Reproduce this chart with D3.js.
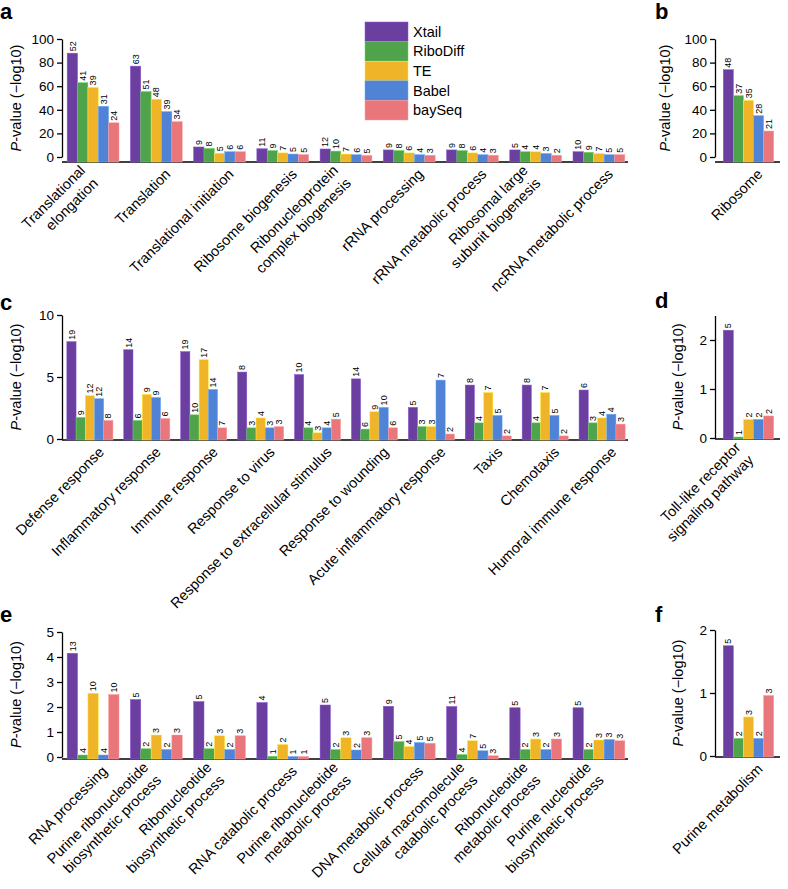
<!DOCTYPE html>
<html>
<head>
<meta charset="utf-8">
<script src="https://cdn.jsdelivr.net/npm/d3@7"></script>
<style>
  body { margin: 0; background: #fff; }
  svg text { font-family: "Liberation Sans", Arial, Helvetica, sans-serif; }
</style>
</head>
<body>
<svg id="chart" width="788" height="889"></svg>
<script>
const methods = ["Xtail", "RiboDiff", "TE", "Babel", "baySeq"];
const methodColors = ["#6a3fa0", "#4fa34a", "#f0b429", "#5082d6", "#e8767a"];

// panel a
const catsA = ["Translational\nelongation", "Translation", "Translational initiation", "Ribosome biogenesis",
  "Ribonucleoprotein\ncomplex biogenesis", "rRNA processing", "rRNA metabolic process",
  "Ribosomal large\nsubunit biogenesis", "ncRNA metabolic process"];
const valuesA = [[88, 63, 59, 43, 29], [77, 55.5, 49, 38.5, 30], [8.5, 7.3, 3.2, 4.5, 4.5], [7, 5.5, 3.5, 2.5, 2],
  [6.8, 5, 2.5, 2, 1.3], [6, 5.5, 3.5, 2, 1.5], [6, 5.5, 3.5, 2, 1.5], [6, 4.5, 4.5, 3, 1.5], [4.5, 4, 3, 2, 2]];
const countsA = [[52, 41, 39, 31, 24], [63, 51, 48, 39, 34], [9, 8, 5, 6, 6], [11, 9, 7, 5, 5], [12, 10, 7, 6, 5],
  [9, 8, 6, 4, 3], [9, 8, 6, 4, 3], [5, 4, 4, 3, 2], [10, 9, 7, 5, 5]];
const ticksA = [0, 20, 40, 60, 80, 100];

// panel b
const catsB = ["Ribosome"];
const valuesB = [[74, 52, 48, 35, 22]];
const countsB = [[48, 37, 35, 28, 21]];

// panel c
const catsC = ["Defense response", "Inflammatory response", "Immune response", "Response to virus",
  "Response to extracellular stimulus", "Response to wounding", "Acute inflammatory response",
  "Taxis", "Chemotaxis", "Humoral immune response"];
const valuesC = [[7.85, 1.75, 3.5, 3.25, 1.5], [7.2, 1.5, 3.6, 3.35, 1.65], [7.05, 1.95, 6.4, 4.0, 0.9],
  [5.4, 0.9, 1.7, 0.9, 1.0], [5.2, 0.9, 0.5, 0.9, 1.6], [4.85, 0.8, 2.2, 2.55, 0.9], [2.55, 1.0, 1.0, 4.75, 0.4],
  [4.35, 1.3, 3.75, 1.9, 0.25], [4.35, 1.3, 3.75, 1.9, 0.25], [3.95, 1.3, 1.7, 2.0, 1.2]];
const countsC = [[19, 9, 12, 12, 8], [14, 6, 9, 9, 6], [19, 10, 17, 14, 7], [8, 3, 4, 3, 3], [10, 4, 3, 4, 5],
  [14, 6, 9, 10, 6], [5, 3, 3, 7, 2], [8, 4, 7, 5, 2], [8, 4, 7, 5, 2], [6, 3, 4, 4, 3]];
const ticksC = [0, 5, 10];

// panel d
const catsD = ["Toll-like receptor\nsignaling pathway"];
const valuesD = [[2.2, 0.02, 0.38, 0.38, 0.45]];
const countsD = [[5, 1, 2, 2, 2]];
const ticksD = [0, 1, 2];

// panel e
const catsE = ["RNA processing", "Purine ribonucleotide\nbiosynthetic process", "Ribonucleotide\nbiosynthetic process",
  "RNA catabolic process", "Purine ribonucleotide\nmetabolic process", "DNA metabolic process",
  "Cellular macromolecule\ncatabolic process", "Ribonucleotide\nmetabolic process", "Purine nucleotide\nbiosynthetic process"];
const valuesE = [[4.15, 0.08, 2.55, 0.08, 2.5], [2.3, 0.33, 0.88, 0.3, 0.88], [2.22, 0.33, 0.85, 0.3, 0.85],
  [2.18, 0.03, 0.5, 0.02, 0.02], [2.08, 0.3, 0.77, 0.28, 0.77], [2.03, 0.62, 0.42, 0.58, 0.55],
  [2.02, 0.1, 0.65, 0.25, 0.05], [1.97, 0.3, 0.72, 0.3, 0.72], [1.97, 0.3, 0.68, 0.7, 0.65]];
const countsE = [[13, 4, 10, 4, 10], [5, 2, 3, 2, 3], [5, 2, 3, 2, 3], [4, 1, 2, 1, 1], [5, 2, 3, 2, 3],
  [9, 5, 4, 5, 5], [11, 4, 7, 5, 3], [5, 2, 3, 2, 3], [5, 2, 3, 3, 3]];
const ticksE = [0, 1, 2, 3, 4, 5];

// panel f
const catsF = ["Purine metabolism"];
const valuesF = [[1.75, 0.28, 0.62, 0.28, 0.96]];
const countsF = [[5, 2, 3, 2, 3]];
const ticksF = [0, 1, 2];

const svg = d3.select("#chart");
const color = d3.scaleOrdinal().domain(methods).range(methodColors);

function drawPanel(p) {
    const g = svg.append("g");
    const y = d3.scaleLinear().domain([0, p.max]).range([p.y0, p.y1]);
    const x0 = d3.scaleBand()
        .domain(d3.range(p.cats.length))
        .range([p.axisX + 2, p.right])
        .paddingInner(p.pin)
        .paddingOuter(p.pout);
    const x1 = d3.scaleBand().domain(methods).range([0, x0.bandwidth()]);
    const base = p.y0 + p.off;

    // panel letter
    g.append("text")
        .attr("x", p.letterX).attr("y", p.letterY)
        .style("font-size", "22px").style("font-weight", "bold")
        .text(p.letter);

    // y axis
    const yAxis = g.append("g")
        .attr("transform", `translate(${p.axisX},0)`)
        .call(d3.axisLeft(y).tickValues(p.ticks).tickFormat(d3.format("~g"))
            .tickSize(5).tickSizeOuter(0).tickPadding(3));
    yAxis.select(".domain").attr("stroke-width", 1.3);
    yAxis.selectAll(".tick line").attr("stroke-width", 1.3);
    yAxis.selectAll(".tick text")
        .style("font-size", "13.5px")
        .attr("fill", "#000")
        .style("font-family", "Liberation Sans, Arial, sans-serif");

    const title = g.append("text")
        .attr("transform", `translate(${p.titleX},${(p.y0 + p.y1) / 2}) rotate(-90)`)
        .attr("text-anchor", "middle")
        .style("font-size", "14.5px");
    title.append("tspan").style("font-style", "italic").text("P");
    title.append("tspan").text("-value (\u2212log10)");

    // baseline
    g.append("line")
        .attr("x1", p.axisX).attr("x2", p.right)
        .attr("y1", base).attr("y2", base)
        .attr("stroke", "#000").attr("stroke-width", 1.3);

    const groups = g.selectAll(".grp")
        .data(p.values)
        .enter()
        .append("g")
        .attr("transform", (d, i) => `translate(${x0(i)},0)`);

    groups.selectAll("rect")
        .data(d => d.map((v, j) => ({ m: methods[j], v: v })))
        .enter()
        .append("rect")
        .attr("x", d => x1(d.m))
        .attr("width", x1.bandwidth())
        .attr("y", d => y(d.v))
        .attr("height", d => base - y(d.v))
        .attr("fill", d => color(d.m))
        .attr("stroke", d => d3.color(color(d.m)).brighter(0.8))
        .attr("stroke-width", 0.5);

    groups.each(function (d, i) {
        d3.select(this).selectAll(".cnt")
            .data(p.counts[i].map((c, j) => ({ m: methods[j], c: c, v: d[j] })))
            .enter()
            .append("text")
            .attr("transform", e => `translate(${x1(e.m) + x1.bandwidth() / 2},${y(e.v) - 2}) rotate(-90)`)
            .attr("dy", "0.35em")
            .style("font-size", "9px")
            .text(e => e.c);
    });

    // rotated category labels, two-line ones sit a bit further left
    p.cats.forEach((c, i) => {
        const cx = x0(i) + x0.bandwidth() / 2;
        const lines = c.split("\n");
        const t = g.append("text")
            .attr("transform", `translate(${cx + 15},${base + 13}) rotate(-45)`)
            .attr("text-anchor", "end")
            .style("font-size", "14.5px");
        lines.forEach((l, k) => {
            t.append("tspan")
                .attr("x", lines.length === 1 ? 0 : -13)
                .attr("dy", lines.length === 1 ? "0em" : (k === 0 ? "-1.25em" : "1.25em"))
                .text(l);
        });
    });
}

drawPanel({ letter: "a", letterX: 0, letterY: 19, cats: catsA, values: valuesA, counts: countsA, ticks: ticksA,
    max: 100, y0: 157, y1: 39, off: 5, axisX: 62, right: 628, pin: 0.18, pout: 0.05, titleX: 21 });
drawPanel({ letter: "b", letterX: 655, letterY: 19, cats: catsB, values: valuesB, counts: countsB, ticks: ticksA,
    max: 100, y0: 157, y1: 39, off: 5, axisX: 715, right: 780, pin: 0.2, pout: 0.1, titleX: 670 });
drawPanel({ letter: "c", letterX: 0, letterY: 310, cats: catsC, values: valuesC, counts: countsC, ticks: ticksC,
    max: 10, y0: 439, y1: 315, off: 1, axisX: 62, right: 628, pin: 0.19, pout: 0.05, titleX: 21 });
drawPanel({ letter: "d", letterX: 655, letterY: 308, cats: catsD, values: valuesD, counts: countsD, ticks: ticksD,
    max: 2.5, y0: 438, y1: 315.5, off: 1, axisX: 715, right: 780, pin: 0.2, pout: 0.1, titleX: 683 });
drawPanel({ letter: "e", letterX: 0, letterY: 622, cats: catsE, values: valuesE, counts: countsE, ticks: ticksE,
    max: 5, y0: 757, y1: 632, off: 2, axisX: 62, right: 628, pin: 0.18, pout: 0.05, titleX: 21 });
drawPanel({ letter: "f", letterX: 655, letterY: 622, cats: catsF, values: valuesF, counts: countsF, ticks: ticksF,
    max: 2, y0: 756, y1: 630, off: 1, axisX: 715, right: 780, pin: 0.2, pout: 0.1, titleX: 683 });

// legend
const legend = svg.append("g").attr("transform", "translate(365,22)");
legend.selectAll("rect")
    .data(methods)
    .enter()
    .append("rect")
    .attr("x", 0)
    .attr("y", (d, i) => i * 19.6)
    .attr("width", 43)
    .attr("height", 19.6)
    .attr("fill", d => color(d))
    .attr("stroke", d => d3.color(color(d)).brighter(0.8))
    .attr("stroke-width", 0.5);
legend.selectAll("text")
    .data(methods)
    .enter()
    .append("text")
    .attr("x", 48)
    .attr("y", (d, i) => i * 19.6 + 9.8)
    .attr("dy", "0.35em")
    .style("font-size", "14.5px")
    .text(d => d);
</script>
</body>
</html>
